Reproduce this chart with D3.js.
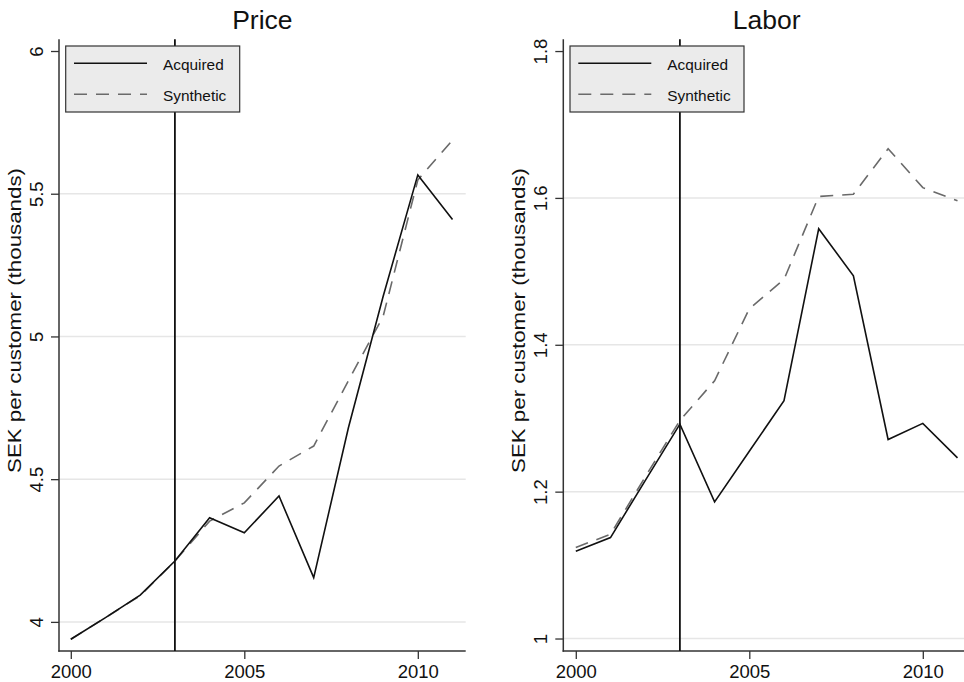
<!DOCTYPE html>
<html>
<head>
<meta charset="utf-8">
<script src="https://cdn.jsdelivr.net/npm/d3@7"></script>
<style>
  html, body { margin: 0; padding: 0; background: #fff; }
  svg { display: block; font-family: "Liberation Sans", Arial, Helvetica, sans-serif; }
</style>
</head>
<body>
<svg id="chart" width="964" height="682"></svg>
<script>
// ---- Data ----
const years = [2000, 2001, 2002, 2003, 2004, 2005, 2006, 2007, 2008, 2009, 2010, 2011];

const priceAcquired  = [3.939, 4.015, 4.094, 4.213, 4.365, 4.312, 4.441, 4.155, 4.68, 5.14, 5.566, 5.41];
const priceSynthetic = [3.939, 4.015, 4.092, 4.213, 4.353, 4.417, 4.546, 4.616, 4.845, 5.07, 5.548, 5.688];

const laborAcquired  = [1.119, 1.1375, 1.215, 1.292, 1.186, 1.255, 1.324, 1.558, 1.494, 1.271, 1.293, 1.246];
const laborSynthetic = [1.124, 1.142, 1.22, 1.297, 1.351, 1.449, 1.489, 1.602, 1.605, 1.667, 1.614, 1.596];

const priceTicks = [4, 4.5, 5, 5.5, 6];
const laborTicks = [1, 1.2, 1.4, 1.6, 1.8];
const xTicks = [2000, 2005, 2010];
const treatmentYear = 2003;
const legendLabels = ["Acquired", "Synthetic"];
const yTitle = "SEK per customer (thousands)";

// ---- Drawing ----
(function () {
const svg = d3.select("#chart");
const FONT = '"Liberation Sans", Arial, Helvetica, sans-serif';

const panels = [
  { title: "Price", acq: priceAcquired, syn: priceSynthetic, ticks: priceTicks,
    left: 59, right: 465.7, xDom: [1999.66, 2011.38], yDom: [3.898, 6.041], fmt: d3.format("") },
  { title: "Labor", acq: laborAcquired, syn: laborSynthetic, ticks: laborTicks,
    left: 563.3, right: 970, xDom: [1999.64, 2011.36], yDom: [0.983, 1.816], fmt: d3.format("") }
];

const plotTop = 39.3, plotBottom = 651;

panels.forEach(p => {
  const g = svg.append("g");
  const x = d3.scaleLinear().domain(p.xDom).range([p.left, p.right]);
  const y = d3.scaleLinear().domain(p.yDom).range([plotBottom, plotTop]);

  const clipId = "clip-" + p.title;
  svg.append("clipPath").attr("id", clipId)
    .append("rect").attr("x", p.left).attr("y", plotTop - 2)
    .attr("width", p.right - p.left).attr("height", plotBottom - plotTop + 2);

  // gridlines (not at the top tick)
  g.selectAll("line.grid")
    .data(p.ticks.slice(0, -1))
    .join("line")
    .attr("class", "grid")
    .attr("x1", p.left).attr("x2", p.right)
    .attr("y1", d => y(d)).attr("y2", d => y(d))
    .attr("stroke", "#e6e6e6").attr("stroke-width", 1.5);

  // y axis
  const yAxis = d3.axisLeft(y).tickValues(p.ticks).tickSize(8).tickPadding(0).tickFormat(p.fmt);
  const ya = g.append("g").attr("transform", `translate(${p.left},0)`).call(yAxis);
  ya.select(".domain").remove();
  ya.selectAll(".tick line").attr("stroke", "#333").attr("stroke-width", 1.3);
  ya.selectAll(".tick text")
    .attr("x", 0).attr("y", 0).attr("dy", null)
    .attr("transform", "translate(-16,0) rotate(-90)")
    .attr("text-anchor", "middle")
    .attr("font-family", FONT).attr("font-size", 18.5).attr("fill", "#111");
  g.append("line").attr("x1", p.left).attr("x2", p.left).attr("y1", plotTop).attr("y2", plotBottom + 0.7)
    .attr("stroke", "#333").attr("stroke-width", 1.5);

  // x axis
  const xAxis = d3.axisBottom(x).tickValues(xTicks).tickSize(8).tickPadding(0).tickFormat(d3.format("d"));
  const xa = g.append("g").attr("transform", `translate(0,${plotBottom})`).call(xAxis);
  xa.select(".domain").remove();
  xa.selectAll(".tick line").attr("stroke", "#333").attr("stroke-width", 1.3);
  xa.selectAll(".tick text")
    .attr("y", 27.3).attr("dy", null)
    .attr("font-family", FONT).attr("font-size", 18.5).attr("fill", "#111");
  g.append("line").attr("x1", p.left - 0.7).attr("x2", p.right).attr("y1", plotBottom).attr("y2", plotBottom)
    .attr("stroke", "#333").attr("stroke-width", 1.5);

  // y title
  g.append("text")
    .attr("transform", `translate(${p.left - 38.3},${320.5}) rotate(-90)`)
    .attr("text-anchor", "middle")
    .attr("font-family", FONT).attr("font-size", 19).attr("fill", "#111")
    .attr("textLength", 305).attr("lengthAdjust", "spacingAndGlyphs")
    .text(yTitle);

  // title
  g.append("text")
    .attr("x", (p.left + p.right) / 2).attr("y", 29.3)
    .attr("text-anchor", "middle")
    .attr("font-family", FONT).attr("font-size", 26.5).attr("fill", "#111")
    .text(p.title);

  const plot = g.append("g").attr("clip-path", `url(#${clipId})`);

  // vertical treatment line
  plot.append("line")
    .attr("x1", x(treatmentYear)).attr("x2", x(treatmentYear))
    .attr("y1", plotTop).attr("y2", plotBottom)
    .attr("stroke", "#111").attr("stroke-width", 1.8);

  const line = d3.line().x((d, i) => x(years[i])).y(d => y(d));

  plot.append("path").datum(p.syn)
    .attr("d", line).attr("fill", "none")
    .attr("stroke", "#6a6a6a").attr("stroke-width", 1.6)
    .attr("stroke-dasharray", "13,9");

  plot.append("path").datum(p.acq)
    .attr("d", line).attr("fill", "none")
    .attr("stroke", "#111").attr("stroke-width", 1.6)
    .attr("stroke-linejoin", "miter");

  // legend
  const lx = p.left + 6.7, ly = 46, lw = 174, lh = 66;
  const lg = g.append("g");
  lg.append("rect").attr("x", lx).attr("y", ly).attr("width", lw).attr("height", lh)
    .attr("fill", "#ebebeb").attr("stroke", "#333").attr("stroke-width", 1.2);
  const rows = [
    { label: legendLabels[0], yy: 63.3, stroke: "#111", dash: null },
    { label: legendLabels[1], yy: 94.3, stroke: "#6a6a6a", dash: "13,9" }
  ];
  rows.forEach(r => {
    lg.append("line").attr("x1", lx + 8.3).attr("x2", lx + 81.3)
      .attr("y1", r.yy).attr("y2", r.yy)
      .attr("stroke", r.stroke).attr("stroke-width", 1.6)
      .attr("stroke-dasharray", r.dash);
    lg.append("text").attr("x", lx + 97.3).attr("y", r.yy + 6.2)
      .attr("font-family", FONT).attr("font-size", 15.4).attr("fill", "#111")
      .text(r.label);
  });
});
})();
</script>
</body>
</html>
